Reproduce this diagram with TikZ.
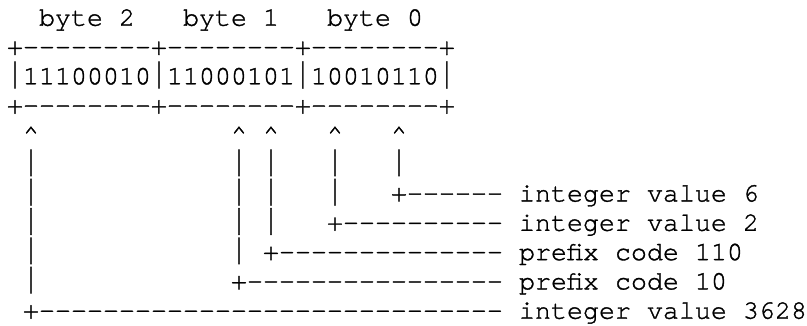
\documentclass[tikz,border=0pt]{standalone}
\usepackage{fontspec}
\setmonofont{TeX Gyre Cursor}[FakeBold=1.2]
\newcommand\asccell[4]{\node[asc] (#1) at ({7+16*(#2)},{299.3-29.3*(#3)}) {#4};}
\newcommand\vb{\raisebox{-4pt}{\resizebox{\width}{26.6pt}{\raisebox{\depth}{|}}}}
\begin{document}
\begin{tikzpicture}[x=1pt,y=1pt,
  asc/.style={anchor=base west,inner sep=0pt,outer sep=0pt,
    font=\ttfamily\fontsize{26.66pt}{29.3pt}\selectfont}]
\useasboundingbox (0,0) rectangle (807,325);
% header
\asccell{b2}{2}{0}{byte 2}
\asccell{b1}{11}{0}{byte 1}
\asccell{b0}{20}{0}{byte 0}
% box
\asccell{boxtop}{0}{1}{+--------+--------+--------+}
\asccell{boxmid}{0}{2}{\vb11100010\vb11000101\vb10010110\vb}
\asccell{boxbot}{0}{3}{+--------+--------+--------+}
% carets
\asccell{ca}{1}{4}{\textasciicircum}
\asccell{cb}{14}{4}{\textasciicircum}
\asccell{cc}{16}{4}{\textasciicircum}
\asccell{cd}{20}{4}{\textasciicircum}
\asccell{ce}{24}{4}{\textasciicircum}
% row 5
\asccell{a5}{1}{5}{\vb}
\asccell{b5}{14}{5}{\vb}
\asccell{c5}{16}{5}{\vb}
\asccell{d5}{20}{5}{\vb}
\asccell{e5}{24}{5}{\vb}
% row 6
\asccell{a6}{1}{6}{\vb}
\asccell{b6}{14}{6}{\vb}
\asccell{c6}{16}{6}{\vb}
\asccell{d6}{20}{6}{\vb}
\asccell{e6}{24}{6}{+------}
\asccell{t6}{32}{6}{integer value 6}
% row 7
\asccell{a7}{1}{7}{\vb}
\asccell{b7}{14}{7}{\vb}
\asccell{c7}{16}{7}{\vb}
\asccell{d7}{20}{7}{+----------}
\asccell{t7}{32}{7}{integer value 2}
% row 8
\asccell{a8}{1}{8}{\vb}
\asccell{b8}{14}{8}{\vb}
\asccell{c8}{16}{8}{+--------------}
\asccell{t8}{32}{8}{prefix code 110}
% row 9
\asccell{a9}{1}{9}{\vb}
\asccell{b9}{14}{9}{+----------------}
\asccell{t9}{32}{9}{prefix code 10}
% row 10
\asccell{a10}{1}{10}{+-----------------------------}
\asccell{t10}{32}{10}{integer value 3628}
\end{tikzpicture}
\end{document}
